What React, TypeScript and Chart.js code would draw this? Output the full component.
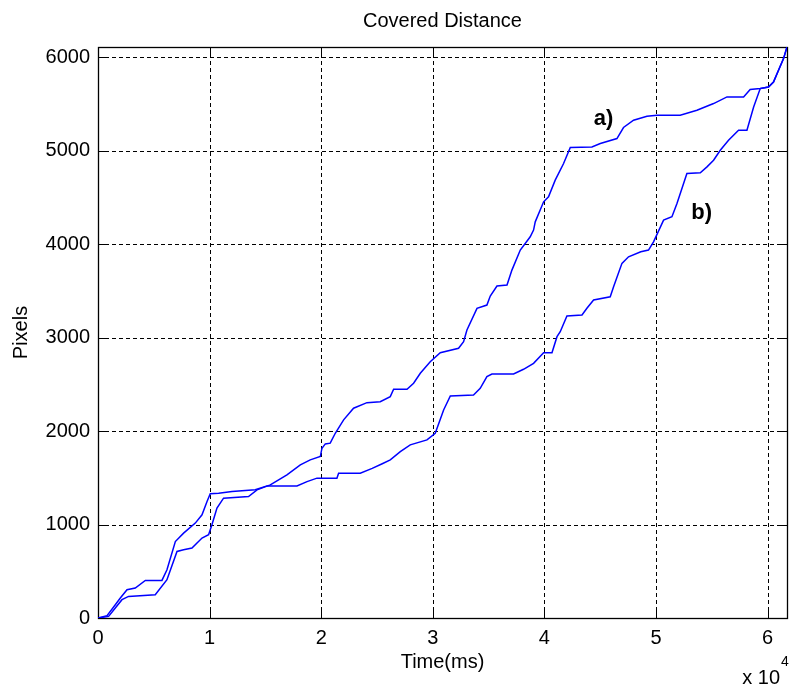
import React, { useEffect, useRef } from "react";
import { Chart, registerables } from "chart.js";

Chart.register(...registerables);

const TITLE = "Covered Distance";
const X_TITLE = "Time(ms)";
const Y_TITLE = "Pixels";
const X_MAX = 61740;
const Y_MAX = 6107;
const X_UNIT = 10000;
const xTickValues = [0, 10000, 20000, 30000, 40000, 50000, 60000];
const yTickValues = [0, 1000, 2000, 3000, 4000, 5000, 6000];
const X_SCALE_BASE = "x 10";
const X_SCALE_EXP = "4";

// curve a)
const timeA = [
  0, 950, 1550, 2150, 2740, 5130, 6180, 7080, 7670, 8420, 9320, 9910, 10210, 10660, 11250,
  13490, 14250, 15440, 16930, 18130, 19020, 19920, 20070, 20370, 20810, 21260, 22010, 22900,
  24100, 25290, 26190, 26490, 27690, 28280, 28880, 29770, 30670, 32310, 32760, 33060, 33960,
  34850, 35150, 35750, 36650, 37090, 37840, 38730, 39030, 39180, 39930, 40370, 40970, 41720,
  42320, 44260, 45010, 46500, 47090, 47990, 49190, 50090, 52170, 53670, 55160, 56360, 57850,
  58440, 59340, 60080, 60530, 60980, 61430, 61740,
];
const distA = [
  0, 17, 107, 196, 231, 249, 409, 712, 730, 748, 855, 890, 997, 1175, 1282,
  1299, 1371, 1424, 1531, 1638, 1691, 1727, 1816, 1862, 1870, 1976, 2119, 2244,
  2303, 2314, 2368, 2447, 2447, 2511, 2618, 2741, 2838, 2885, 2955, 3080, 3312,
  3347, 3443, 3550, 3561, 3721, 3935, 4077, 4149, 4237, 4451, 4504, 4683, 4861,
  5032, 5038, 5075, 5128, 5246, 5324, 5367, 5378, 5378, 5431, 5502, 5573, 5573,
  5652, 5662, 5679, 5733, 5858, 5983, 6107,
];

// curve b)
const timeB = [
  0, 810, 1550, 2000, 2600, 3340, 4240, 5730, 6180, 6930, 7670, 8720, 9320, 9770, 10060,
  10810, 12010, 14090, 15140, 17830, 18730, 19620, 21410, 21560, 23500, 24570, 25470, 26190,
  27090, 27980, 29480, 30220, 30970, 31570, 33650, 34250, 34850, 35300, 37240, 38130, 39030,
  39930, 40680, 41130, 41420, 42020, 43370, 43810, 44410, 45900, 46200, 46950, 47540, 48640,
  49330, 49780, 50680, 51430, 51880, 52770, 53970, 54570, 55160, 55760, 56500, 57400, 58150,
  58750, 59340, 60080, 60530, 60980, 61430, 61740,
];
const distB = [
  0, 25, 142, 214, 302, 320, 402, 402, 516, 818, 908, 1015, 1104, 1246, 1328,
  1335, 1353, 1371, 1413, 1413, 1459, 1496, 1496, 1549, 1549, 1600, 1650, 1691,
  1780, 1852, 1905, 1976, 2225, 2375, 2386, 2457, 2581, 2610, 2610, 2660, 2724,
  2838, 2838, 3009, 3062, 3230, 3240, 3312, 3401, 3436, 3543, 3793, 3863, 3917,
  3935, 4023, 4255, 4291, 4434, 4754, 4761, 4825, 4896, 5003, 5110, 5217, 5217,
  5466, 5662, 5679, 5733, 5858, 5983, 6107,
];

// curve annotations, anchored in data coordinates
const curveLabels = [
  { text: "a)", x: 45300, y: 5340 },
  { text: "b)", x: 54100, y: 4330 },
];

const FONT = "'Liberation Sans', Arial, sans-serif";

function toPoints(xs: number[], ys: number[]) {
  const n = Math.min(xs.length, ys.length);
  const out: { x: number; y: number }[] = [];
  for (let i = 0; i < n; i++) out.push({ x: xs[i], y: ys[i] });
  return out;
}

const matlabAxes = {
  id: "matlabAxes",
  beforeDatasetsDraw(chart: any) {
    const { ctx, chartArea: a, scales } = chart;
    const xs = scales.x;
    const ys = scales.y;
    ctx.save();
    ctx.strokeStyle = "#000";
    ctx.lineWidth = 1;
    ctx.setLineDash([4, 3]);
    xs.ticks.forEach((t: any) => {
      const px = Math.round(xs.getPixelForValue(t.value)) + 0.5;
      if (px <= a.left + 2 || px >= a.right - 2) return;
      ctx.beginPath();
      ctx.moveTo(px, a.top);
      ctx.lineTo(px, a.bottom);
      ctx.stroke();
    });
    ys.ticks.forEach((t: any) => {
      const py = Math.round(ys.getPixelForValue(t.value)) + 0.5;
      if (py <= a.top + 2 || py >= a.bottom - 2) return;
      ctx.beginPath();
      ctx.moveTo(a.left, py);
      ctx.lineTo(a.right, py);
      ctx.stroke();
    });
    ctx.setLineDash([]);
    const tl = 8;
    xs.ticks.forEach((t: any) => {
      const px = Math.round(xs.getPixelForValue(t.value)) + 0.5;
      ctx.beginPath();
      ctx.moveTo(px, a.bottom);
      ctx.lineTo(px, a.bottom - tl);
      ctx.moveTo(px, a.top);
      ctx.lineTo(px, a.top + tl);
      ctx.stroke();
    });
    ys.ticks.forEach((t: any) => {
      const py = Math.round(ys.getPixelForValue(t.value)) + 0.5;
      ctx.beginPath();
      ctx.moveTo(a.left, py);
      ctx.lineTo(a.left + tl, py);
      ctx.moveTo(a.right, py);
      ctx.lineTo(a.right - tl, py);
      ctx.stroke();
    });
    ctx.lineWidth = 1.3;
    ctx.strokeRect(Math.round(a.left) + 0.5, Math.round(a.top) + 0.5,
      Math.round(a.right - a.left), Math.round(a.bottom - a.top));
    ctx.restore();
  },
  afterDraw(chart: any) {
    const { ctx, chartArea: a, scales } = chart;
    const xs = scales.x;
    const ys = scales.y;
    ctx.save();
    ctx.fillStyle = "#000";
    ctx.font = `bold 22px ${FONT}`;
    ctx.textAlign = "center";
    ctx.textBaseline = "middle";
    curveLabels.forEach((l) => {
      ctx.fillText(l.text, xs.getPixelForValue(l.x), ys.getPixelForValue(l.y));
    });
    const baseRight = a.right - 7;
    ctx.textBaseline = "alphabetic";
    ctx.font = `20px ${FONT}`;
    ctx.textAlign = "right";
    ctx.fillText(X_SCALE_BASE, baseRight, 684);
    ctx.font = `14px ${FONT}`;
    ctx.textAlign = "left";
    ctx.fillText(X_SCALE_EXP, baseRight + 1, 666);
    ctx.restore();
  },
};

export default function App() {
  const ref = useRef<HTMLCanvasElement | null>(null);

  useEffect(() => {
    if (!ref.current) return;
    const lineStyle = {
      borderColor: "#0000ff",
      borderWidth: 1.5,
      pointRadius: 0,
      pointHoverRadius: 0,
      showLine: true,
      fill: false,
      tension: 0,
    };
    const setTicks = (values: number[]) => (s: any) => {
      s.ticks = values.map((v) => ({ value: v }));
    };
    const chart = new Chart(ref.current, {
      type: "scatter",
      data: {
        datasets: [
          { label: "a)", data: toPoints(timeA, distA), ...lineStyle },
          { label: "b)", data: toPoints(timeB, distB), ...lineStyle },
        ],
      },
      options: {
        responsive: false,
        animation: false,
        devicePixelRatio: 1,
        layout: { padding: { left: 0, right: 4, top: 0, bottom: 0 } },
        plugins: {
          legend: { display: false },
          tooltip: { enabled: false },
          title: {
            display: true,
            fullSize: false,
            text: TITLE,
            color: "#000",
            font: { family: FONT, size: 20, weight: "normal", lineHeight: 1.2 },
            padding: { top: 9.5, bottom: 13.5 },
          },
        },
        scales: {
          x: {
            type: "linear",
            min: 0,
            max: X_MAX,
            afterBuildTicks: setTicks(xTickValues),
            grid: { display: false, drawTicks: false },
            border: { display: false },
            ticks: {
              padding: 8,
              color: "#000",
              maxRotation: 0,
              autoSkip: false,
              font: { family: FONT, size: 20 },
              callback: (v: any) => String(Math.round(Number(v) / X_UNIT)),
            },
            title: {
              display: true,
              text: X_TITLE,
              color: "#000",
              font: { family: FONT, size: 20, lineHeight: 1.2 },
              padding: { top: 0, bottom: 16 },
            },
            afterFit: (s: any) => {
              s.height = 72;
            },
          },
          y: {
            type: "linear",
            min: 0,
            max: Y_MAX,
            afterBuildTicks: setTicks(yTickValues),
            grid: { display: false, drawTicks: false },
            border: { display: false },
            ticks: {
              padding: 8,
              color: "#000",
              autoSkip: false,
              font: { family: FONT, size: 20 },
              callback: (v: any) => String(v),
            },
            title: {
              display: true,
              text: Y_TITLE,
              color: "#000",
              font: { family: FONT, size: 20, lineHeight: 1.2 },
              padding: { top: 9, bottom: 0 },
            },
            afterFit: (s: any) => {
              s.width = 98;
            },
          },
        },
      },
      plugins: [matlabAxes],
    } as any);
    return () => chart.destroy();
  }, []);

  return (
    <div style={{ position: "fixed", left: 0, top: 0, width: 791, height: 690, background: "#fff" }}>
      <canvas ref={ref} width={791} height={690} style={{ display: "block" }} />
    </div>
  );
}
